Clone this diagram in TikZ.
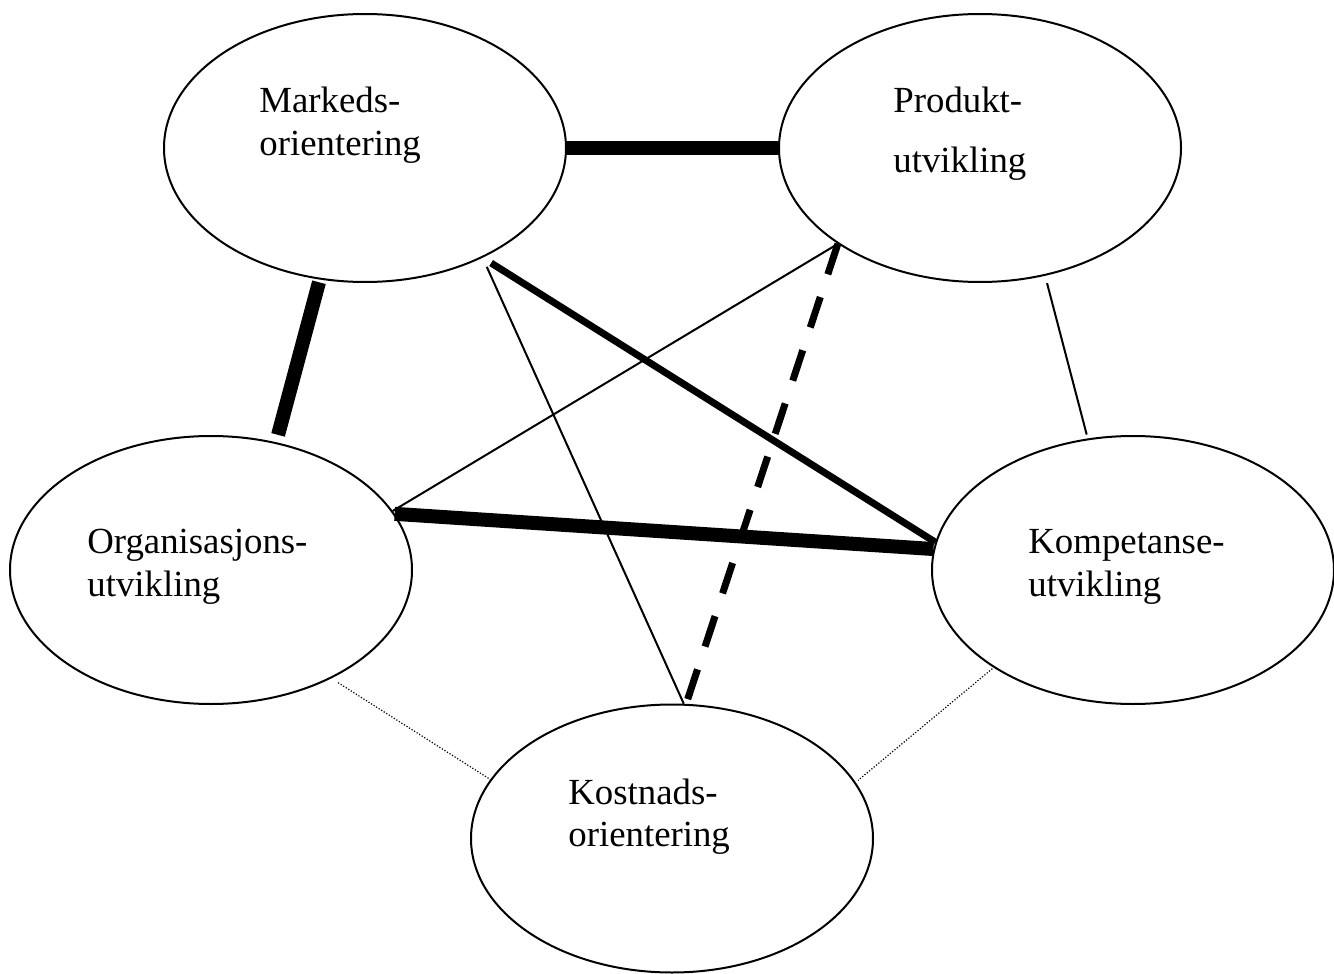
\documentclass[tikz,border=0pt]{standalone}
\usepackage{fontspec}
\setmainfont{Liberation Serif}
\usetikzlibrary{shapes.geometric}
\newcommand{\twoline}[3]{\vtop{\baselineskip=#1\hbox{#2}\hbox{#3}}}
\begin{document}
\begin{tikzpicture}[x=0.5pt,y=-0.5pt,
  oval/.style={ellipse, draw, line width=1pt, minimum width=201pt, minimum height=134pt, inner sep=0pt},
  lbl/.style={anchor=base west, inner sep=0pt, font=\fontsize{18.4}{21}\selectfont},
  heavy/.style={line width=7pt},
  medium/.style={line width=3.5pt},
  thinline/.style={line width=1pt},
  dashheavy/.style={line width=3.5pt, dash pattern=on 16pt off 12pt},
  dotline/.style={line width=0.6pt, dash pattern=on 0.6pt off 0.9pt}]
\useasboundingbox (0,0) rectangle (1334,974);
% ellipses
\node[oval] (M) at (365,148) {};
\node[oval] (P) at (980,148) {};
\node[oval] (O) at (211,570) {};
\node[oval] (K) at (1133,570) {};
\node[oval] (C) at (672,838.5) {};
% labels
\node[lbl] (tM) at (259,113) {\twoline{21pt}{Markeds-}{orientering}};
\node[lbl] (tP) at (893,113) {\twoline{29.5pt}{Produkt-}{utvikling}};
\node[lbl] (tO) at (87,553) {\twoline{21.5pt}{Organisasjons-}{utvikling}};
\node[lbl] (tK) at (1028,553) {\twoline{21.5pt}{Kompetanse-}{utvikling}};
\node[lbl] (tC) at (568,804) {\twoline{21pt}{Kostnads-}{orientering}};
% connectors
\draw[heavy] (M.east) -- (P.west);
\draw[heavy, shorten <=1.4pt, shorten >=3.8pt] (M.-109.7) -- (O.63.6);
\draw[medium, shorten <=5pt] (M.-43) -- (K.172.3);
\draw[thinline, shorten <=5pt] (M.-43) -- (C.85.8);
\draw[thinline] (P.-146.5) -- (O.18);
\draw[dashheavy, shorten >=2.5pt] (P.-146) -- (C.84.7);
\draw[thinline, shorten <=3.8pt, shorten >=2pt] (P.-63.6) -- (K.109.6);
\draw[heavy] (O.17.4) -- (K.174.3);
\draw[dotline, shorten <=4pt] (O.-42.8) -- (C.162.5);
\draw[dotline, shorten <=0.8pt, shorten >=1.5pt] (K.-145.9) -- (C.17.8);
\end{tikzpicture}
\end{document}
